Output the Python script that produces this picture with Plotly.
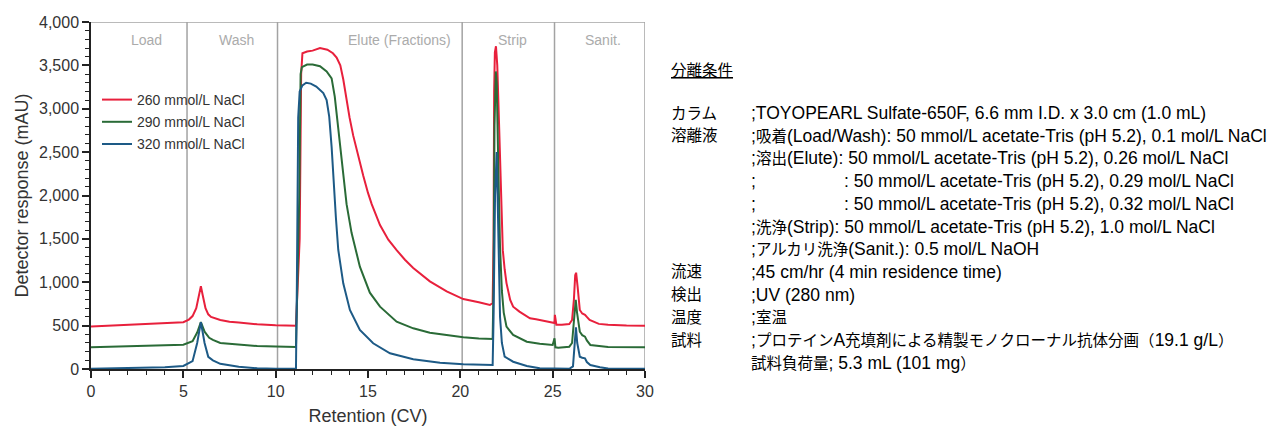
import re
import plotly.graph_objects as go

# ---------------- data ----------------
ret_260 = [0, 1, 2, 3, 4, 5, 5.3, 5.5, 5.7, 5.85, 5.95, 6.05, 6.2, 6.35, 6.5, 7, 7.5, 8, 9, 10,
           11.1, 11.3, 11.38, 11.45, 11.7, 12.0, 12.4, 12.8, 13.1, 13.3, 13.5, 13.66, 13.84, 14.0,
           14.2, 14.5, 14.74, 15.0, 15.2, 15.65, 16.1, 16.55, 17.0, 17.45, 18.35, 19.26, 20.16,
           21.0, 21.6, 21.75, 21.8, 21.83, 21.87, 21.93, 22.0, 22.1, 22.24, 22.3, 22.4, 22.5,
           22.7, 22.86, 23.2, 23.5, 23.77, 24.1, 24.5, 25.0, 25.1, 25.12, 25.2, 25.5, 25.9, 26.05,
           26.15, 26.22, 26.27, 26.35, 26.47, 26.6, 26.75, 26.85, 27.0, 27.5, 28, 29, 30]
resp_260 = [490, 500, 510, 520, 530, 540, 570, 610, 700, 850, 955, 850, 700, 630, 600, 565, 545, 535, 515, 505,
            500, 1500, 3400, 3640, 3660, 3670, 3700, 3680, 3640, 3590, 3500, 3340, 3100, 2900,
            2690, 2420, 2230, 2030, 1900, 1660, 1490, 1370, 1260, 1165, 1010, 895, 806,
            770, 738, 760, 1500, 3200, 3650, 3720, 3500, 2800, 1830, 1370, 1150, 990,
            796, 718, 661, 620, 585, 573, 555, 534, 530, 625, 510, 510, 519, 565,
            800, 1080, 1110, 950, 680, 640, 625, 600, 565, 520, 510, 502, 500]

ret_290 = [0, 1, 1.5, 3, 5, 5.5, 5.75, 5.95, 6.15, 6.4, 6.6, 7, 8, 9, 10,
           11.1, 11.28, 11.35, 11.42, 11.7, 12.0, 12.4, 12.76, 13.03, 13.2, 13.39, 13.57, 13.84,
           14.11, 14.56, 15.1, 15.65, 16.55, 17.45, 18.35, 19.26, 20.16, 21.0, 21.6,
           21.75, 21.8, 21.85, 21.92, 21.97, 22.05, 22.15, 22.25, 22.35, 22.5, 22.86, 23.6, 24.3,
           25.0, 25.1, 25.15, 25.3, 25.9, 26.05, 26.15, 26.25, 26.32, 26.47, 26.6, 26.75, 26.85,
           27.04, 28, 30]
resp_290 = [250, 255, 265, 270, 280, 320, 420, 540, 430, 360, 335, 300, 280, 265, 258,
            255, 2000, 3400, 3480, 3510, 3510, 3490, 3430, 3350, 3140, 2760, 2380, 1900,
            1570, 1180, 880, 719, 546, 469, 419, 392, 366, 352, 343,
            345, 1000, 2800, 3430, 3300, 2400, 1400, 900, 650, 488, 392, 315, 290,
            277, 354, 250, 246, 257, 300, 550, 796, 650, 430, 390, 373, 330,
            277, 255, 250]

ret_320 = [0, 2, 4, 5, 5.5, 5.75, 5.95, 6.15, 6.35, 6.6, 7, 8, 9, 10,
           11.1, 11.15, 11.22, 11.3, 11.45, 11.65, 11.9, 12.2, 12.58, 12.76, 12.9, 13.03, 13.16,
           13.26, 13.39, 13.66, 14.02, 14.56, 15.28, 16.19, 17.45, 18.9, 20.16, 21.0, 21.7,
           21.75, 21.8, 21.88, 21.97, 22.05, 22.15, 22.25, 22.4, 22.86, 23.6, 24.3,
           25.0, 25.9, 26.1, 26.2, 26.26, 26.33, 26.47, 26.6, 26.75, 26.85, 27.04, 27.56, 28, 30]
resp_320 = [3, 10, 20, 35, 90, 300, 540, 300, 140, 100, 60, 25, 8, 3,
            5, 1000, 2900, 3200, 3270, 3300, 3290, 3256, 3180, 3100, 2910, 2560, 2050,
            1750, 1372, 988, 680, 450, 296, 181, 112, 73, 54, 50, 46,
            46, 600, 2000, 2500, 1500, 600, 300, 142, 84, 35, 8,
            2, 2, 30, 350, 480, 300, 142, 130, 123, 80, 46, 20, 5, 2]

series_names = ["260 mmol/L NaCl", "290 mmol/L NaCl", "320 mmol/L NaCl"]
series_colors = ["#e8203c", "#2a6b37", "#1d5a86"]

phase_bounds = [5.2, 10.1, 20.1, 25.1, 30]
phase_labels = ["Load", "Wash", "Elute (Fractions)", "Strip", "Sanit."]
phase_label_x = [3.0, 7.9, 16.7, 22.85, 27.7]

cond_title = "分離条件"
cond_rows = [
    ("カラム", ";TOYOPEARL Sulfate-650F, 6.6 mm I.D. x 3.0 cm (1.0 mL)"),
    ("溶離液", ";吸着(Load/Wash): 50 mmol/L acetate-Tris (pH 5.2), 0.1 mol/L NaCl"),
    ("", ";溶出(Elute): 50 mmol/L acetate-Tris (pH 5.2), 0.26 mol/L NaCl"),
    ("", ";"),
    ("", ";"),
    ("", ";洗浄(Strip): 50 mmol/L acetate-Tris (pH 5.2), 1.0 mol/L NaCl"),
    ("", ";アルカリ洗浄(Sanit.): 0.5 mol/L NaOH"),
    ("流速", ";45 cm/hr (4 min residence time)"),
    ("検出", ";UV (280 nm)"),
    ("温度", ";室温"),
    ("試料", ";プロテインA充填剤による精製モノクローナル抗体分画（19.1 g/L）"),
    ("", "試料負荷量; 5.3 mL (101 mg）"),
]
cond_sub = {3: ": 50 mmol/L acetate-Tris (pH 5.2), 0.29 mol/L NaCl",
            4: ": 50 mmol/L acetate-Tris (pH 5.2), 0.32 mol/L NaCl"}

# ---------------- figure ----------------
W, H = 1278, 428
L, R, T, B = 91, 645, 22, 369


def px_x(px):
    return (px - L) / (R - L)


def px_y(py):
    return (B - py) / (B - T)


CJK_RE = re.compile(r"([\u3000-\u30ff\u4e00-\u9fff\uff00-\uffef]+)")


def mixed(text, cjk_size=15.5):
    # render CJK runs slightly smaller than the Latin text
    return CJK_RE.sub(lambda m: f'<span style="font-size:{cjk_size}px">{m.group(1)}</span>', text)


fig = go.Figure()
for i, (xs, ys) in enumerate([(ret_260, resp_260), (ret_290, resp_290), (ret_320, resp_320)]):
    fig.add_trace(go.Scatter(x=xs, y=ys, mode="lines", name=series_names[i],
                             legendgroup=f"g{i}",
                             line=dict(color=series_colors[i], width=2)))

grey = "#a3a3a3"
for b in phase_bounds:
    fig.add_shape(type="line", x0=b, x1=b, y0=0, y1=4000, xref="x", yref="y",
                  line=dict(color=grey, width=1.5), layer="below")
fig.add_shape(type="line", x0=0, x1=30, y0=4000, y1=4000, xref="x", yref="y",
              line=dict(color=grey, width=1.5), layer="below")

for lab, lx in zip(phase_labels, phase_label_x):
    fig.add_annotation(x=lx, y=3795, text=lab, showarrow=False, xref="x", yref="y",
                       xanchor="center", yanchor="middle",
                       font=dict(family="Liberation Sans, Arial, sans-serif", size=14, color="#ababab"))

font_cond = "Liberation Sans, Arial, Noto Sans CJK JP, sans-serif"
cond_font = dict(family=font_cond, size=17.5, color="#000")
fig.add_annotation(x=px_x(669), y=px_y(70), xref="paper", yref="paper",
                   xanchor="left", yanchor="middle",
                   text=f"<u>{mixed(cond_title)}</u>", showarrow=False, font=cond_font)
row_y0, row_dy = 113, 22.7
for i, (lab, val) in enumerate(cond_rows):
    yy = px_y(row_y0 + i * row_dy)
    if lab:
        fig.add_annotation(x=px_x(669), y=yy, xref="paper", yref="paper",
                           xanchor="left", yanchor="middle",
                           text=mixed(lab), showarrow=False, font=cond_font)
    fig.add_annotation(x=px_x(749), y=yy, xref="paper", yref="paper",
                       xanchor="left", yanchor="middle",
                       text=mixed(val), showarrow=False, font=cond_font)
    if i in cond_sub:
        fig.add_annotation(x=px_x(842), y=yy, xref="paper", yref="paper",
                           xanchor="left", yanchor="middle",
                           text=mixed(cond_sub[i]), showarrow=False, font=cond_font)

axis_font = dict(family="Liberation Sans, Arial, sans-serif", size=16, color="#333")
title_font = dict(family="Liberation Sans, Arial, sans-serif", size=18, color="#333")

fig.update_layout(
    width=W, height=H,
    margin=dict(l=L, r=W - R, t=T, b=H - B, autoexpand=False),
    paper_bgcolor="white", plot_bgcolor="white",
    showlegend=True,
    legend=dict(x=px_x(97), y=px_y(84), xanchor="left", yanchor="top",
                bgcolor="rgba(0,0,0,0)", tracegroupgap=1, traceorder="grouped",
                font=dict(family="Liberation Sans, Arial, sans-serif", size=14, color="#333"),
                itemwidth=30),
    xaxis=dict(range=[0, 30], dtick=5, tick0=0, showgrid=False, zeroline=False,
               automargin=False,
               showline=True, linecolor="#222", linewidth=1.5,
               ticks="outside", ticklen=7, tickcolor="#222", tickwidth=1.5,
               minor=dict(dtick=1, ticks="outside", ticklen=4, tickcolor="#222", tickwidth=1),
               tickfont=axis_font,
               title=dict(text="Retention (CV)", font=title_font, standoff=10)),
    yaxis=dict(range=[0, 4000], dtick=500, tick0=0, showgrid=False, zeroline=False,
               automargin=False,
               showline=True, linecolor="#222", linewidth=1.5, tickformat=",d",
               ticks="outside", ticklen=7, tickcolor="#222", tickwidth=1.5,
               minor=dict(dtick=100, ticks="outside", ticklen=4, tickcolor="#222", tickwidth=1),
               tickfont=axis_font,
               title=dict(text="Detector response (mAU)", font=title_font, standoff=6)),
)

fig.write_html("out.html", config={"displayModeBar": False},
               post_script="document.body.style.margin='0';")
